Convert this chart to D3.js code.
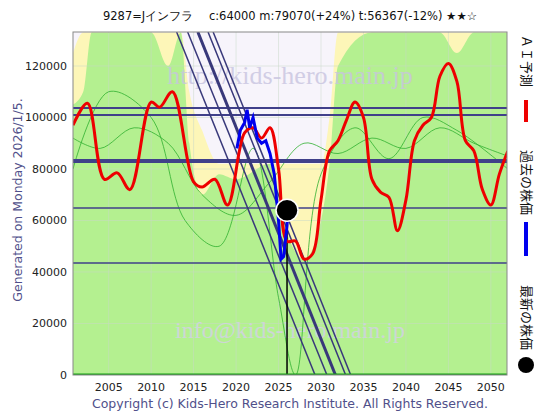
<!DOCTYPE html>
<html><head><meta charset="utf-8">
<script src="https://cdn.jsdelivr.net/npm/d3@7"></script>
<style>body{margin:0;background:#fff}text{font-family:"DejaVu Sans",sans-serif}</style>
</head><body><svg id="c" width="560" height="420"></svg>
<script>
// background bands
var bandYears = [2000.8,2002,2003,2010,2012,2013.5,2014.5,2016,2018,2020,2024,2026,2028,2030,2031,2032,2036,2040,2044,2046,2048,2052];
var yellowTop = [125000,133000,133000,133000,133000,133000,110000,95000,82000,82000,82000,82000,82000,82000,100000,133000,133000,133000,133000,133000,133000,133000];
var greenTop  = [105000,110000,133000,133000,120000,133000,90000,70000,78000,76000,82000,55000,45000,60000,82000,120000,133000,133000,133000,125000,133000,133000];

// AI prediction (red)
var predYears = [2000.8,2002.5,2004.5,2006,2007.5,2010,2011,2012.5,2015,2016,2017.5,2019,2021,2022,2023,2024,2025,2026,2027,2028,2029,2030,2031,2032,2033,2034,2035,2036,2037,2038,2039,2040,2041,2042,2043,2044,2045,2046,2047,2048,2049,2050,2051,2052];
var predVals  = [97000,105500,76000,78500,72000,106000,104000,110000,75000,73000,76000,66000,94000,96000,92000,96000,80000,52000,52000,45000,47000,68000,87000,91000,99000,106000,100000,76000,71000,69000,56000,68000,91000,97000,100000,116000,121000,114000,91000,87000,72000,66000,78000,87000];

// past prices (blue)
var pastYears = [2020.1,2020.5,2021,2021.3,2021.6,2022,2022.5,2023,2023.5,2024,2024.5,2025,2025.3,2025.6,2026,2026.1];
var pastVals  = [88000,95000,98000,103000,96000,100000,92000,90000,91000,86000,78000,60000,45000,46000,58000,64000];

// thin green lines
var g1Years = [2000.8,2004,2008,2012,2016,2020,2024,2028,2032,2036,2040,2044,2048,2052];
var g1Vals  = [92000,88000,96000,90000,70000,62000,75000,90000,86000,92000,88000,96000,90000,85000];
var g2Years = [2000.8,2005,2010,2014,2018,2022,2025,2027,2030,2034,2038,2042,2046,2052];
var g2Vals  = [80000,110000,100000,60000,50000,88000,30000,0,78000,96000,84000,100000,95000,80000];

var hLines = [103700, 101000, 83100, 64900, 43500];
var hWidth = [2, 2, 4, 1.5, 1.5];
var diagTop = [2013.0, 2014.3, 2015.5, 2016.7, 2017.3];
var diagBottom = [2029.3, 2030.7, 2031.7, 2032.9, 2033.5];
var diagWidth = [1.5, 1.5, 3, 1.5, 1.5];

var yTicks = [0,20000,40000,60000,80000,100000,120000];
var xTicks = [2005,2010,2015,2020,2025,2030,2035,2040,2045,2050];
var latest = {year: 2026, value: 64000};

var svg = d3.select("#c");
var x = d3.scaleLinear().domain([2000.8, 2051.9]).range([73, 507]);
var y = d3.scaleLinear().domain([0, 133200]).range([375, 32]);

svg.append("defs").append("clipPath").attr("id","clip")
  .append("rect").attr("x",73).attr("y",32).attr("width",434).attr("height",343);
var plot = svg.append("g").attr("clip-path","url(#clip)");

plot.append("rect").attr("x",73).attr("y",32).attr("width",434).attr("height",343).attr("fill","#f7f4fb");
var area = function(top){
  return d3.area().x(function(d,i){return x(bandYears[i]);}).y0(y(0)).y1(function(d,i){return y(top[i]);}).curve(d3.curveMonotoneX)(bandYears);
};
plot.append("path").attr("d",area(yellowTop)).attr("fill","#fdf6b8");
plot.append("path").attr("d",area(greenTop)).attr("fill","#b4f090");

// grid
yTicks.forEach(function(t){ plot.append("line").attr("x1",73).attr("x2",507).attr("y1",y(t)).attr("y2",y(t)).attr("stroke","#c8d8c8").attr("stroke-width",0.5); });
xTicks.forEach(function(t){ plot.append("line").attr("x1",x(t)).attr("x2",x(t)).attr("y1",32).attr("y2",375).attr("stroke","#c8d8c8").attr("stroke-width",0.5); });

// watermarks
plot.append("text").attr("x",290).attr("y",84).attr("text-anchor","middle").attr("font-size",26)
  .style("font-family","Liberation Serif").attr("fill","#c8c4e0").attr("opacity",0.8).text("http://kids-hero.main.jp");
plot.append("text").attr("x",290).attr("y",338).attr("text-anchor","middle").attr("font-size",24)
  .style("font-family","Liberation Serif").attr("fill","#d4d0e8").attr("opacity",0.8).text("info@kids-hero.main.jp");

var line = function(xs, vs){ return d3.line().x(function(d,i){return x(xs[i]);}).y(function(d,i){return y(vs[i]);}).curve(d3.curveCatmullRom)(xs); };
plot.append("path").attr("d",line(g1Years,g1Vals)).attr("fill","none").attr("stroke","#30b030").attr("stroke-width",0.8);
plot.append("path").attr("d",line(g2Years,g2Vals)).attr("fill","none").attr("stroke","#30b030").attr("stroke-width",0.8);

hLines.forEach(function(v,i){
  plot.append("line").attr("x1",73).attr("x2",507).attr("y1",y(v)).attr("y2",y(v)).attr("stroke","#40408a").attr("stroke-width",hWidth[i]);
});
diagTop.forEach(function(t,i){
  plot.append("line").attr("x1",x(t)).attr("y1",y(133200)).attr("x2",x(diagBottom[i])).attr("y2",y(0)).attr("stroke","#38387a").attr("stroke-width",diagWidth[i]);
});

plot.append("line").attr("x1",x(latest.year)).attr("x2",x(latest.year)).attr("y1",y(latest.value)).attr("y2",y(0)).attr("stroke","#000").attr("stroke-width",1.5);
plot.append("path").attr("d",line(predYears,predVals)).attr("fill","none").attr("stroke","#ee0000").attr("stroke-width",3);
plot.append("path").attr("d",d3.line().x(function(d,i){return x(pastYears[i]);}).y(function(d,i){return y(pastVals[i]);})(pastYears)).attr("fill","none").attr("stroke","#0000ee").attr("stroke-width",3);
plot.append("circle").attr("cx",x(latest.year)).attr("cy",y(latest.value)).attr("r",11).attr("fill","#000").attr("stroke","#fff").attr("stroke-width",1.5);

plot.append("line").attr("x1",73).attr("x2",507).attr("y1",375).attr("y2",375).attr("stroke","#10a010").attr("stroke-width",3);
svg.append("rect").attr("x",73).attr("y",32).attr("width",434).attr("height",343).attr("fill","none").attr("stroke","#888").attr("stroke-width",1);

// axes labels
yTicks.forEach(function(t){
  svg.append("text").attr("x",67).attr("y",y(t)+4).attr("text-anchor","end").attr("font-size",11).attr("fill","#222").text(t);
});
xTicks.forEach(function(t){
  svg.append("text").attr("x",x(t)).attr("y",391).attr("text-anchor","middle").attr("font-size",11).attr("fill","#222").text(t);
});

svg.append("text").attr("x",290).attr("y",20).attr("text-anchor","middle").attr("font-size",11.5).attr("fill","#111")
  .text("9287=Jインフラ　 c:64000  m:79070(+24%)  t:56367(-12%)  ★★☆");
svg.append("text").attr("x",290).attr("y",408).attr("text-anchor","middle").attr("font-size",12.5).attr("fill","#50508a")
  .text("Copyright (c) Kids-Hero Research Institute. All Rights Reserved.");
svg.append("text").attr("transform","translate(22,200) rotate(-90)").attr("text-anchor","middle").attr("font-size",12.5).attr("fill","#50508a")
  .text("Generated on Monday 2026/1/5.");

// legend
var leg = [{t:"ＡＩ予測", y:35},{t:"過去の株価", y:150},{t:"最新の株価", y:285}];
leg.forEach(function(d){
  svg.append("text").attr("transform","translate(522,"+d.y+") rotate(90)").attr("font-size",13)
    .style("font-family","Noto Sans CJK JP").attr("fill","#111").text(d.t);
});
svg.append("rect").attr("x",524).attr("y",100).attr("width",4).attr("height",22).attr("fill","#ee0000");
svg.append("rect").attr("x",524).attr("y",222).attr("width",4).attr("height",34).attr("fill","#0000ee");
svg.append("circle").attr("cx",526).attr("cy",365).attr("r",8).attr("fill","#000");
</script></body></html>
